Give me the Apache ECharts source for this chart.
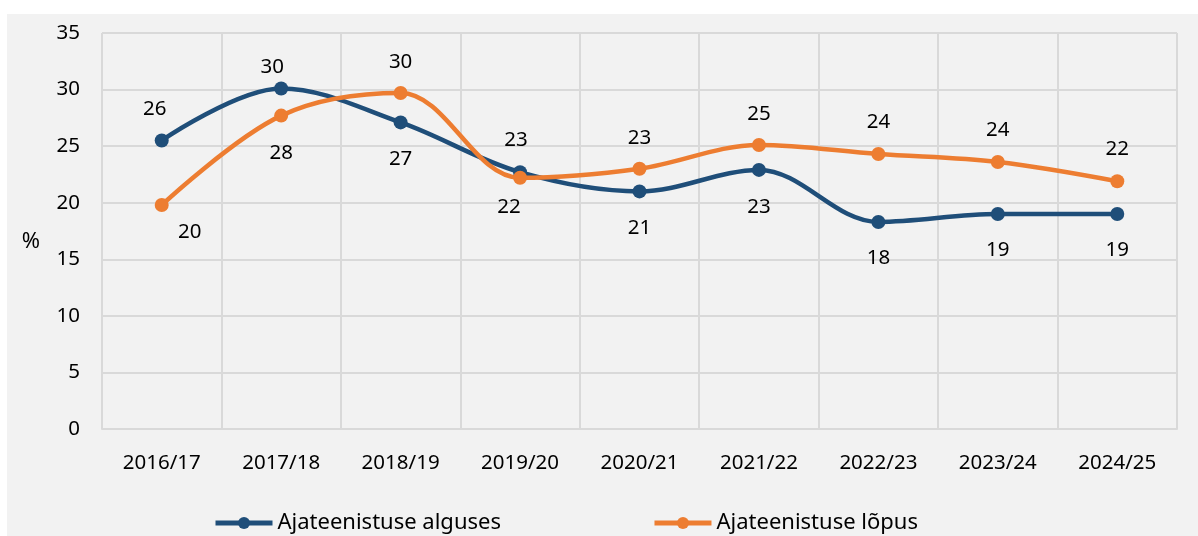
<!DOCTYPE html>
<html>
<head>
<meta charset="utf-8">
<script src="https://cdn.jsdelivr.net/npm/echarts@6/dist/echarts.min.js"></script>
<style>
    body { margin: 0; background: #ffffff; }
    #chart {
        position: absolute;
        left: 7px;
        top: 14px;
        width: 1191px;
        height: 522px;
    }
</style>
</head>
<body>
<div id="chart"></div>
<script>
    // andmed
    var years = ['2016/17', '2017/18', '2018/19', '2019/20', '2020/21', '2021/22', '2022/23', '2023/24', '2024/25'];
    var alguses = [25.5, 30.1, 27.1, 22.7, 21.0, 22.9, 18.3, 19.0, 19.0];
    var lopus = [19.8, 27.7, 29.7, 22.2, 23.0, 25.1, 24.3, 23.6, 21.9];
    var yTicks = [0, 5, 10, 15, 20, 25, 30, 35];

    // sildi nihked punkti suhtes
    var alOffsets = [[-7, -31], [-9, -21], [0, 37], [-4, -32], [0, 37], [0, 37], [0, 36], [0, 36], [0, 36]];
    var loOffsets = [[28, 27], [0, 38], [0, -31], [-11, 29], [0, -31], [0, -31], [0, -32], [0, -32], [0, -32]];

    var font = '"Noto Sans", sans-serif';

    function withLabels(values, offsets) {
        return values.map(function (v, i) {
            return { value: v, label: { offset: offsets[i] } };
        });
    }

    var chart = echarts.init(document.getElementById('chart'));
    var option = {
        backgroundColor: '#f2f2f2',
        animation: false,
        textStyle: { fontFamily: font },
        grid: {
            left: 95,
            right: 21,
            top: 19,
            bottom: 107
        },
        legend: {
            top: 498,
            left: 206,
            padding: 0,
            itemGap: 151,
            itemWidth: 57,
            itemHeight: 15,
            lineStyle: { width: 5 },
            textStyle: { fontSize: 22, color: '#000', fontFamily: font },
            data: ['Ajateenistuse alguses', 'Ajateenistuse lõpus']
        },
        xAxis: {
            type: 'category',
            data: years,
            boundaryGap: true,
            axisLine: { lineStyle: { color: '#d9d9d9', width: 2 } },
            axisTick: { show: false },
            axisLabel: { color: '#000', fontSize: 20.5, margin: 24, fontFamily: font },
            splitLine: { show: true, lineStyle: { color: '#d9d9d9', width: 2 } }
        },
        yAxis: {
            type: 'value',
            min: yTicks[0],
            max: yTicks[yTicks.length - 1],
            interval: 5,
            name: '%',
            nameLocation: 'middle',
            nameRotate: 0,
            nameGap: 62,
            nameTextStyle: { color: '#000', fontSize: 22, fontFamily: font, verticalAlign: 'top' },
            axisLine: { show: false },
            axisTick: { show: false },
            axisLabel: { color: '#000', fontSize: 20.5, margin: 22, fontFamily: font },
            splitLine: { show: true, lineStyle: { color: '#d9d9d9', width: 2 } }
        },
        series: [{
            name: 'Ajateenistuse alguses',
            type: 'line',
            smooth: 0.35,
            symbol: 'circle',
            symbolSize: 14,
            itemStyle: { color: '#1f4e79' },
            lineStyle: { color: '#1f4e79', width: 4.5 },
            label: {
                show: true,
                position: 'inside',
                color: '#000',
                fontSize: 20.5,
                fontFamily: font,
                formatter: function (p) { return Math.round(p.value); }
            },
            data: withLabels(alguses, alOffsets)
        }, {
            name: 'Ajateenistuse lõpus',
            type: 'line',
            smooth: 0.35,
            symbol: 'circle',
            symbolSize: 14,
            itemStyle: { color: '#ed7d31' },
            lineStyle: { color: '#ed7d31', width: 4.5 },
            label: {
                show: true,
                position: 'inside',
                color: '#000',
                fontSize: 20.5,
                fontFamily: font,
                formatter: function (p) { return Math.round(p.value); }
            },
            data: withLabels(lopus, loOffsets)
        }]
    };
    chart.setOption(option);
</script>
</body>
</html>
